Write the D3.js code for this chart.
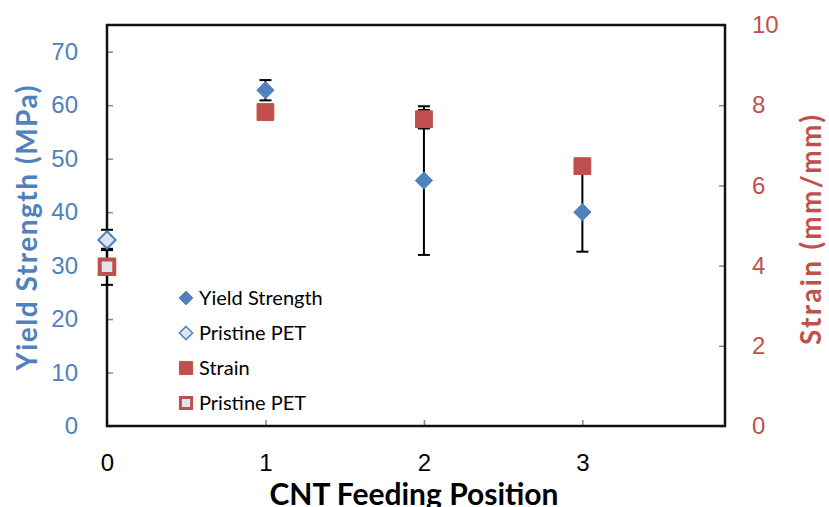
<!DOCTYPE html>
<html>
<head>
<meta charset="utf-8">
<title>CNT Feeding Position</title>
<script src="https://cdn.jsdelivr.net/npm/d3@7"></script>
<style>
  body { margin: 0; background: #fff; }
  svg { font-family: Lato, "Open Sans", sans-serif; }
</style>
</head>
<body>
<svg id="chart" width="829" height="507"></svg>
<script>
// data
var positions = [1, 2, 3];
var yieldStrength = [62.8, 45.9, 40.0];
var yieldErr = [1.9, 13.9, 7.4];
var strain = [7.83, 7.65, 6.48];
var strainErr = [0.1, 0.23, 0.1];

var pristinePos = 0;
var pristineYield = 34.8, pristineYieldErr = 1.9;
var pristineStrain = 3.97, pristineStrainErr = 0.45;

var xTicks = [0, 1, 2, 3];
var yLeftTicks = [0, 10, 20, 30, 40, 50, 60, 70];
var yRightTicks = [0, 2, 4, 6, 8, 10];
var legendLabels = ["Yield Strength", "Pristine PET", "Strain", "Pristine PET"];

var blue = "#4f81bd", red = "#c0504d", pale = "#dce6f2";

var svg = d3.select("#chart");

var x = d3.scaleLinear().domain([0, 3.9]).range([107, 725]);
var yL = d3.scaleLinear().domain([0, 75]).range([426, 25]);
var yR = d3.scaleLinear().domain([0, 10]).range([426, 25]);

// axes
var gx = svg.append("g").attr("transform", "translate(0,426)")
    .call(d3.axisBottom(x).tickValues(xTicks).tickSize(-6).tickSizeOuter(0).tickPadding(28).tickFormat(d3.format("d")));
gx.selectAll("text").attr("font-size", 24).attr("fill", "#000");

var gl = svg.append("g").attr("transform", "translate(107,0)")
    .call(d3.axisLeft(yL).tickValues(yLeftTicks).tickSize(-6).tickSizeOuter(0).tickPadding(29));
gl.selectAll("text").attr("font-size", 24).attr("fill", blue);

var gr = svg.append("g").attr("transform", "translate(725,0)")
    .call(d3.axisRight(yR).tickValues(yRightTicks).tickSize(-6).tickSizeOuter(0).tickPadding(27));
gr.selectAll("text").attr("font-size", 24).attr("fill", red);

svg.selectAll(".tick line").attr("stroke", "#888").attr("stroke-width", 1.5);
svg.selectAll(".domain").remove();

// plot frame
svg.append("rect")
    .attr("x", x(0)).attr("y", yL(75))
    .attr("width", x(3.9) - x(0)).attr("height", yL(0) - yL(75))
    .attr("fill", "none").attr("stroke", "#111").attr("stroke-width", 2.5);

// error bars
function errBars(xs, vals, errs, scale) {
  var g = svg.append("g").attr("stroke", "#000").attr("stroke-width", 2);
  xs.forEach(function(p, i) {
    var cx = x(p), top = scale(vals[i] + errs[i]), bot = scale(vals[i] - errs[i]);
    g.append("line").attr("x1", cx).attr("x2", cx).attr("y1", top).attr("y2", bot);
    g.append("line").attr("x1", cx - 6).attr("x2", cx + 6).attr("y1", top).attr("y2", top);
    g.append("line").attr("x1", cx - 6).attr("x2", cx + 6).attr("y1", bot).attr("y2", bot);
  });
}
errBars(positions, yieldStrength, yieldErr, yL);
errBars([pristinePos], [pristineYield], [pristineYieldErr], yL);
errBars(positions, strain, strainErr, yR);
errBars([pristinePos], [pristineStrain], [pristineStrainErr], yR);

var diamond = d3.symbol().type(d3.symbolDiamond2).size(190);
var square = d3.symbol().type(d3.symbolSquare2).size(360);

// markers
svg.append("g").selectAll("path").data(positions).join("path")
    .attr("d", diamond)
    .attr("transform", function(d, i) { return "translate(" + x(d) + "," + yL(yieldStrength[i]) + ")"; })
    .attr("fill", blue).attr("stroke", blue).attr("stroke-width", 1);

svg.append("path").attr("d", diamond)
    .attr("transform", "translate(" + x(pristinePos) + "," + yL(pristineYield) + ")")
    .attr("fill", pale).attr("stroke", blue).attr("stroke-width", 2);

svg.append("g").selectAll("path").data(positions).join("path")
    .attr("d", square)
    .attr("transform", function(d, i) { return "translate(" + x(d) + "," + yR(strain[i]) + ")"; })
    .attr("fill", red).attr("stroke", red).attr("stroke-width", 1);

svg.append("path").attr("d", d3.symbol().type(d3.symbolSquare2).size(270))
    .attr("transform", "translate(" + x(pristinePos) + "," + yR(pristineStrain) + ")")
    .attr("fill", pale).attr("stroke", red).attr("stroke-width", 4);

// legend
var leg = svg.append("g");
var legY = [298, 333, 368, 403];
legendLabels.forEach(function(t, i) {
  var m;
  if (i === 0) m = leg.append("path").attr("d", d3.symbol().type(d3.symbolDiamond2).size(120)).attr("fill", blue).attr("stroke", blue);
  if (i === 1) m = leg.append("path").attr("d", d3.symbol().type(d3.symbolDiamond2).size(110)).attr("fill", pale).attr("stroke", blue).attr("stroke-width", 1.5);
  if (i === 2) m = leg.append("path").attr("d", d3.symbol().type(d3.symbolSquare2).size(220)).attr("fill", red).attr("stroke", red);
  if (i === 3) m = leg.append("path").attr("d", d3.symbol().type(d3.symbolSquare2).size(160)).attr("fill", pale).attr("stroke", red).attr("stroke-width", 3);
  m.attr("transform", "translate(186," + legY[i] + ")");
  leg.append("text").attr("x", 199).attr("y", legY[i]).attr("dy", "0.35em")
      .attr("font-size", 20).attr("fill", "#000").text(t);
});

// axis titles
svg.append("text").attr("transform", "translate(37,228) rotate(-90)")
    .attr("text-anchor", "middle").attr("font-size", 28).attr("font-weight", "bold")
    .attr("fill", blue).attr("textLength", 285).attr("lengthAdjust", "spacing")
    .text("Yield Strength (MPa)");

svg.append("text").attr("transform", "translate(821,230) rotate(-90)")
    .attr("text-anchor", "middle").attr("font-size", 28).attr("font-weight", "bold")
    .attr("fill", red).attr("textLength", 230).attr("lengthAdjust", "spacing")
    .text("Strain (mm/mm)");

svg.append("text").attr("x", 414).attr("y", 505)
    .attr("text-anchor", "middle").attr("font-size", 30).attr("font-weight", "bold")
    .attr("fill", "#000").text("CNT Feeding Position");
</script>
</body>
</html>
